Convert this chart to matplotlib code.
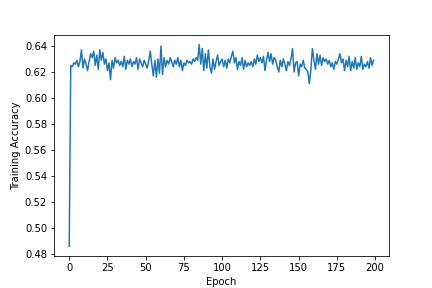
"""Training accuracy per epoch."""
import matplotlib

matplotlib.use("Agg")
import matplotlib.pyplot as plt

# accuracy values, epochs 0..199
acc_0_49 = [
    0.486, 0.625, 0.624, 0.627, 0.626, 0.629, 0.624, 0.628, 0.637, 0.623,
    0.630, 0.626, 0.621, 0.628, 0.634, 0.631, 0.636, 0.625, 0.633, 0.622,
    0.637, 0.629, 0.635, 0.626, 0.630, 0.621, 0.627, 0.614, 0.629, 0.623,
    0.631, 0.627, 0.629, 0.625, 0.628, 0.624, 0.632, 0.622, 0.629, 0.626,
    0.630, 0.624, 0.628, 0.626, 0.631, 0.622, 0.630, 0.627, 0.624, 0.629,
]
acc_50_99 = [
    0.626, 0.623, 0.629, 0.636, 0.626, 0.617, 0.629, 0.616, 0.630, 0.619,
    0.640, 0.618, 0.631, 0.624, 0.629, 0.626, 0.631, 0.628, 0.624, 0.629,
    0.626, 0.631, 0.624, 0.629, 0.621, 0.627, 0.625, 0.629, 0.627, 0.628,
    0.626, 0.630, 0.628, 0.631, 0.629, 0.641, 0.626, 0.638, 0.621, 0.634,
    0.623, 0.637, 0.624, 0.619, 0.630, 0.622, 0.628, 0.633, 0.625, 0.628,
]
acc_100_149 = [
    0.630, 0.624, 0.629, 0.623, 0.630, 0.627, 0.632, 0.636, 0.627, 0.631,
    0.622, 0.628, 0.625, 0.631, 0.622, 0.629, 0.624, 0.627, 0.625, 0.628,
    0.624, 0.630, 0.626, 0.633, 0.628, 0.631, 0.627, 0.632, 0.621, 0.629,
    0.635, 0.628, 0.634, 0.626, 0.631, 0.629, 0.624, 0.620, 0.629, 0.624,
    0.630, 0.626, 0.621, 0.628, 0.625, 0.630, 0.638, 0.620, 0.627, 0.628,
]
acc_150_199 = [
    0.617, 0.626, 0.624, 0.629, 0.623, 0.622, 0.620, 0.611, 0.622, 0.638,
    0.629, 0.622, 0.634, 0.626, 0.633, 0.625, 0.631, 0.628, 0.630, 0.626,
    0.629, 0.624, 0.627, 0.622, 0.628, 0.626, 0.630, 0.634, 0.627, 0.630,
    0.621, 0.629, 0.624, 0.632, 0.621, 0.628, 0.623, 0.631, 0.622, 0.627,
    0.624, 0.632, 0.622, 0.626, 0.624, 0.628, 0.623, 0.631, 0.625, 0.629,
]

accuracy = acc_0_49 + acc_50_99 + acc_100_149 + acc_150_199
epochs = list(range(len(accuracy)))


def main() -> None:
    fig, ax = plt.subplots(figsize=(6, 4), dpi=72)
    ax.plot(epochs, accuracy)
    ax.set_xlabel("Epoch")
    ax.set_ylabel("Training Accuracy")
    fig.savefig("out.png", dpi=72)


if __name__ == "__main__":
    main()
